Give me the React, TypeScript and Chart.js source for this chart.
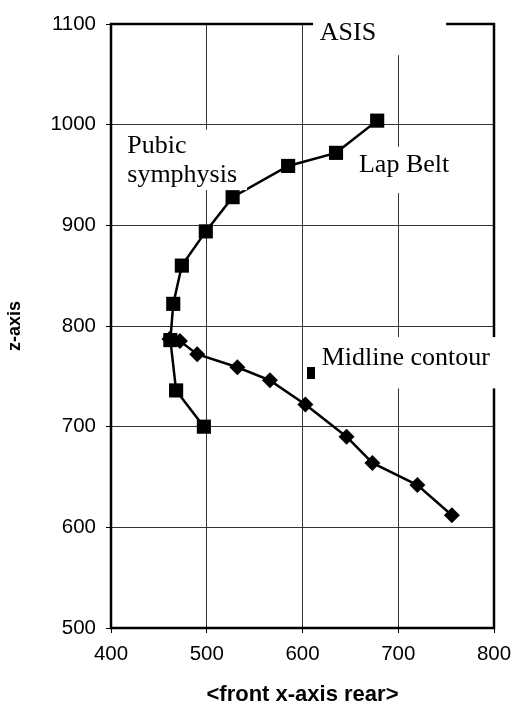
import React, { useEffect, useRef } from "react";
import { Chart, registerables } from "chart.js";

Chart.register(...registerables);

// Lap belt path (square markers)
const lapBeltX = [678, 635, 585, 527, 499, 474, 465, 462, 468, 497];
const lapBeltZ = [1004, 972, 959, 928, 894, 860, 822, 786, 736, 700];
// Midline contour (diamond markers)
const midlineX = [461, 472, 490, 532, 566, 603, 646, 673, 720, 756];
const midlineZ = [787, 785, 772, 759, 746, 722, 690, 664, 642, 612];
// Lone marker beside the "Midline contour" label
const markerX = [609];
const markerZ = [753];

const xTicks = [400, 500, 600, 700, 800];
const zTicks = [500, 600, 700, 800, 900, 1000, 1100];

// Annotation labels (data units): text lines, left x, baselines, white box [x0, x1, zTop, zBottom]
const labels = [
  { lines: ["ASIS"], x: 618, z: [1084], box: [611, 750, 1114, 1069] },
  { lines: ["Pubic", "symphysis"], x: 417, z: [972, 943], box: [410, 542, 995, 935] },
  { lines: ["Lap Belt"], x: 659, z: [953], box: [655, 760, 978, 932] },
  { lines: ["Midline contour"], x: 620, z: [761], box: [616, 806, 789, 738] },
];

export default function App() {
  const ref = useRef<HTMLCanvasElement>(null);

  useEffect(() => {
    const canvas = ref.current;
    if (!canvas) return;

    const marker = document.createElement("canvas");
    marker.width = 8;
    marker.height = 12;
    const mctx = marker.getContext("2d")!;
    mctx.fillStyle = "#000";
    mctx.fillRect(0, 0, 8, 12);

    const annotate = {
      id: "annotate",
      afterDatasetsDraw(chart: any) {
        const { ctx, chartArea: a, scales } = chart;
        const xs = scales.x;
        const ys = scales.y;
        ctx.save();
        // plot frame
        ctx.strokeStyle = "#000";
        ctx.lineWidth = 2.5;
        ctx.strokeRect(a.left, a.top, a.right - a.left, a.bottom - a.top);
        for (const l of labels) {
          const x0 = xs.getPixelForValue(l.box[0]);
          const x1 = xs.getPixelForValue(l.box[1]);
          const y0 = ys.getPixelForValue(l.box[2]);
          const y1 = ys.getPixelForValue(l.box[3]);
          ctx.fillStyle = "#fff";
          ctx.fillRect(x0, y0, x1 - x0, y1 - y0);
        }
        ctx.fillStyle = "#000";
        ctx.font = "26px 'Liberation Serif', 'Times New Roman', serif";
        ctx.textAlign = "left";
        ctx.textBaseline = "alphabetic";
        for (const l of labels) {
          const px = xs.getPixelForValue(l.x);
          l.lines.forEach((t, i) => {
            ctx.fillText(t, px, ys.getPixelForValue(l.z[i]));
          });
        }
        ctx.restore();
      },
    };

    const tickFont = { family: "'Liberation Sans', Arial, sans-serif", size: 20.5 };

    const chart = new Chart(canvas, {
      type: "scatter",
      data: {
        datasets: [
          {
            label: "Lap Belt",
            data: lapBeltX.map((x, i) => ({ x, y: lapBeltZ[i] })),
            showLine: true,
            borderColor: "#000",
            backgroundColor: "#000",
            borderWidth: 2.5,
            pointStyle: "rect",
            pointRadius: 10,
            pointBorderWidth: 0,
          },
          {
            label: "Midline contour",
            data: midlineX.map((x, i) => ({ x, y: midlineZ[i] })),
            showLine: true,
            borderColor: "#000",
            backgroundColor: "#000",
            borderWidth: 2.5,
            pointStyle: "rectRot",
            pointRadius: 8,
            pointBorderWidth: 0,
          },
          {
            label: "marker",
            data: markerX.map((x, i) => ({ x, y: markerZ[i] })),
            showLine: false,
            pointStyle: marker as any,
            pointRadius: 6,
          },
        ],
      },
      options: {
        responsive: false,
        animation: false,
        events: [],
        layout: { padding: { left: 0, top: 24, right: 19, bottom: 0 } },
        plugins: {
          legend: { display: false },
          tooltip: { enabled: false },
        },
        scales: {
          x: {
            type: "linear",
            min: 400,
            max: 800,
            afterFit: (s: any) => {
              s.height = 78;
              s.paddingLeft = 0;
              s.paddingRight = 0;
            },
            afterBuildTicks: (s: any) => {
              s.ticks = xTicks.map((v) => ({ value: v }));
            },
            border: { display: false },
            grid: {
              color: "#333",
              lineWidth: 1,
              drawTicks: true,
              tickLength: 5,
              tickColor: "#000",
            },
            ticks: {
              color: "#000",
              padding: 9,
              font: tickFont,
              callback: (v: any) => String(v),
            },
            title: {
              display: true,
              text: "<front x-axis rear>",
              color: "#000",
              padding: { top: 0, bottom: 0 },
              font: { family: "'Liberation Sans', Arial, sans-serif", size: 22, weight: "bold", lineHeight: 1 },
            },
          },
          y: {
            type: "linear",
            min: 500,
            max: 1100,
            afterFit: (s: any) => {
              s.width = 111;
              s.paddingTop = 0;
              s.paddingBottom = 0;
            },
            afterBuildTicks: (s: any) => {
              s.ticks = zTicks.map((v) => ({ value: v }));
            },
            border: { display: false },
            grid: {
              color: "#333",
              lineWidth: 1,
              drawTicks: true,
              tickLength: 5,
              tickColor: "#000",
            },
            ticks: {
              color: "#000",
              padding: 10,
              font: tickFont,
              callback: (v: any) => String(v),
            },
            title: {
              display: true,
              text: "z-axis",
              color: "#000",
              padding: { top: 6, bottom: 0 },
              font: { family: "'Liberation Sans', Arial, sans-serif", size: 18, weight: "bold", lineHeight: 1 },
            },
          },
        },
      },
      plugins: [annotate],
    });

    return () => chart.destroy();
  }, []);

  return (
    <div style={{ position: "fixed", left: 0, top: 0, width: 513, height: 706, background: "#fff" }}>
      <canvas ref={ref} width={513} height={706} style={{ display: "block" }} />
    </div>
  );
}
